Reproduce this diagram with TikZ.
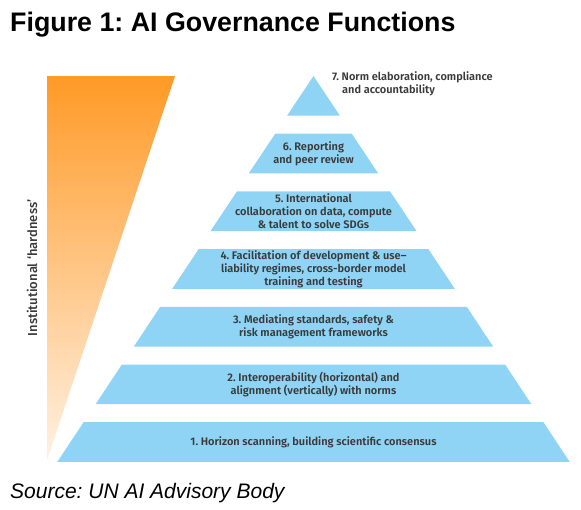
\documentclass[tikz,border=0pt]{standalone}
\usepackage{fontspec}
\setmainfont{Liberation Sans}
\newfontfamily\lblfont{Fira Sans}[BoldFont={Fira Sans Medium}]
\newfontfamily\lblheavy{Fira Sans SemiBold}
\usepackage{xcolor}
\usepackage{tikz}
\frenchspacing

\definecolor{layerblue}{HTML}{8FD4F5}
\definecolor{hardtop}{HTML}{FF9A26}
\definecolor{hardbottom}{HTML}{FFF1E3}
\definecolor{lbltext}{HTML}{3A3A3A}

\tikzset{
	layer/.style={fill=layerblue},
	lbl/.style={align=center, text=lbltext, inner sep=0pt,
		font={\lblheavy\fontsize{11}{13}\selectfont}}
}

\begin{document}
\begin{tikzpicture}[x=1pt, y=-1pt]
			\useasboundingbox (0,0) rectangle (581,509);

			\node[anchor=base west, inner sep=0pt, font={\bfseries\fontsize{26.8}{30}\selectfont}] (title) at (10,31) {Figure 1: AI Governance Functions};

			% hardness wedge
			\shade[top color=hardtop, bottom color=hardbottom] (47,76) -- (175,76) -- (47,460) -- cycle;
			\node[rotate=90, text=lbltext, inner sep=0pt, font={\lblfont\bfseries\fontsize{13}{15}\selectfont}] (hardness) at (32,268) {Institutional ‘hardness’};

			% pyramid layers
			\fill[layer] (313.5,76) -- (339.9,115.7) -- (287.1,115.7) -- cycle;
			\fill[layer] (275.2,133.7) -- (351.8,133.7) -- (378.2,173.4) -- (248.8,173.4) -- cycle;
			\fill[layer] (236.9,191.4) -- (390.1,191.4) -- (416.5,231.1) -- (210.5,231.1) -- cycle;
			\fill[layer] (198.6,249.1) -- (428.4,249.1) -- (454.8,288.8) -- (172.2,288.8) -- cycle;
			\fill[layer] (160.2,306.8) -- (466.8,306.8) -- (493.1,346.5) -- (133.9,346.5) -- cycle;
			\fill[layer] (121.9,364.5) -- (505.1,364.5) -- (531.4,404.2) -- (95.6,404.2) -- cycle;
			\fill[layer] (83.6,422.2) -- (543.4,422.2) -- (569.7,461.9) -- (57.3,461.9) -- cycle;

			\node[lbl, align=left, anchor=base west] (f7) at (332,93) {7. Norm elaboration, compliance\\\hspace*{10pt}and accountability};
			\node[lbl] (f6) at (313.5,153.5) {6. Reporting\\and peer review};
			\node[lbl] (f5) at (313.5,211.2) {5. International\\collaboration on data, compute\\\& talent to solve SDGs};
			\node[lbl] (f4) at (313.5,269) {4. Facilitation of development \& use–\\liability regimes, cross-border model\\training and testing};
			\node[lbl] (f3) at (313.5,326.6) {3. Mediating standards, safety \&\\risk management frameworks};
			\node[lbl] (f2) at (313.5,384.3) {2. Interoperability (horizontal) and\\alignment (vertically) with norms};
			\node[lbl] (f1) at (313.5,442) {1. Horizon scanning, building scientific consensus};

			\node[anchor=base west, inner sep=0pt, font={\itshape\fontsize{21}{24}\selectfont}] (source) at (10,498) {Source: UN AI Advisory Body};
		\end{tikzpicture}
\end{document}
